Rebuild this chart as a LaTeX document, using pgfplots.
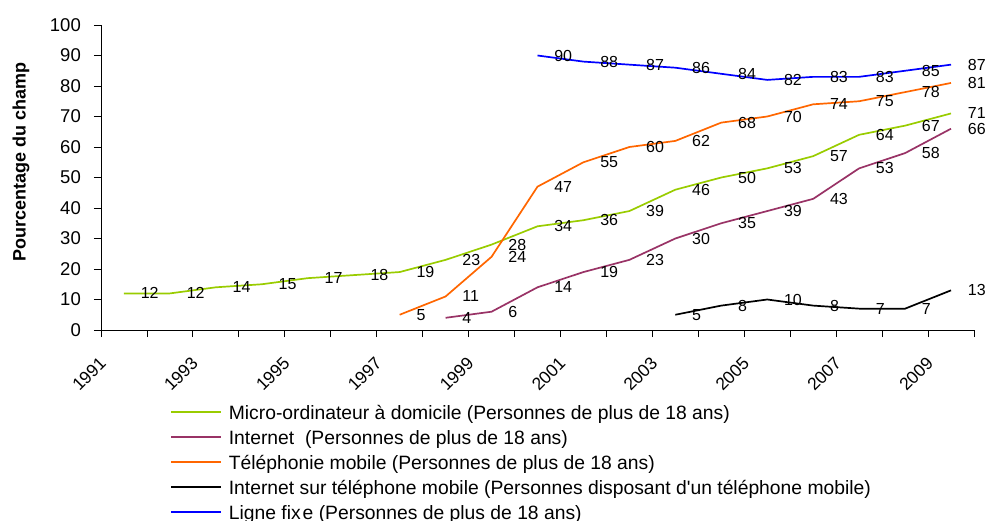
\documentclass[border=0pt]{standalone}
\usepackage{fontspec}
\setmainfont{Liberation Sans}
\usepackage{pgfplots}
\pgfplotsset{compat=1.18}

\definecolor{cmicro}{RGB}{153,204,0}
\definecolor{cnet}{RGB}{153,51,102}
\definecolor{cmobile}{RGB}{255,102,0}
\definecolor{cfixe}{RGB}{0,0,255}

\begin{document}
\begin{tikzpicture}
\path[use as bounding box] (-101pt,-190pt) rectangle (888pt,330pt);
\begin{axis}[
  at={(0pt,0pt)}, anchor=south west,
  scale only axis, width=873pt, height=305pt,
  xmin=-0.5, xmax=18.5, ymin=0, ymax=100,
  clip=false,
  axis x line*=bottom, axis y line*=left,
  axis line style={line width=0.8pt, -},
  tick align=outside,
  major tick length=7pt,
  tick style={line width=0.8pt, black},
  xtick={-0.5,0.5,...,18.5}, xticklabels={},
  extra x ticks={0,2,...,18},
  extra x tick labels={1991,1993,1995,1997,1999,2001,2003,2005,2007,2009},
  extra x tick style={major tick length=0pt,
    xticklabel style={inner sep=0pt, xshift=-21pt, yshift=-30pt, rotate=45, anchor=east,
      font=\fontsize{17.5}{19}\selectfont}},
  ytick={0,10,...,100},
  yticklabel style={inner sep=0pt, xshift=-13pt, font=\fontsize{18.5}{20}\selectfont},
  /pgf/number format/assume math mode=true,
  ylabel={Pourcentage du champ},
  every axis y label/.style={at={(axis description cs:-0.0916,0.55)}, rotate=90, anchor=center,
    font=\fontsize{18}{20}\bfseries},
  every axis plot/.append style={line width=1.7pt, mark=none},
  nodes near coords,
  every node near coord/.append style={anchor=west, xshift=16pt, text=black, inner sep=0pt,
    font=\fontsize{16}{18}\selectfont},
  legend image code/.code={\draw[#1] (0pt,2.3pt) -- (50pt,2.3pt);},
  legend cell align=left,
  legend style={at={(axis description cs:0.079,-0.2459)}, anchor=north west, draw=none, fill=none,
    inner sep=0pt, row sep=7pt, column sep=7pt,
    nodes={inner sep=0pt, text height=14pt, text depth=4pt},
    font=\fontsize{19.3}{21}\selectfont},
]
\addplot[cmicro] coordinates {(0,12)(1,12)(2,14)(3,15)(4,17)(5,18)(6,19)(7,23)(8,28)(9,34)(10,36)(11,39)(12,46)(13,50)(14,53)(15,57)(16,64)(17,67)(18,71)};
\addlegendentry{Micro-ordinateur à domicile (Personnes de plus de 18 ans)}
\addplot[cnet] coordinates {(7,4)(8,6)(9,14)(10,19)(11,23)(12,30)(13,35)(14,39)(15,43)(16,53)(17,58)(18,66)};
\addlegendentry{Internet\ \ (Personnes de plus de 18 ans)}
\addplot[cmobile] coordinates {(6,5)(7,11)(8,24)(9,47)(10,55)(11,60)(12,62)(13,68)(14,70)(15,74)(16,75)(17,78)(18,81)};
\addlegendentry{Téléphonie mobile (Personnes de plus de 18 ans)}
\addplot[black] coordinates {(12,5)(13,8)(14,10)(15,8)(16,7)(17,7)(18,13)};
\addlegendentry{Internet sur téléphone mobile (Personnes disposant d\textquotesingle un téléphone mobile)}
\addplot[cfixe] coordinates {(9,90)(10,88)(11,87)(12,86)(13,84)(14,82)(15,83)(16,83)(17,85)(18,87)};
\addlegendentry{Ligne fix\kern2pt e (Personnes de plus de 18 ans)}
\end{axis}
\end{tikzpicture}
\end{document}
